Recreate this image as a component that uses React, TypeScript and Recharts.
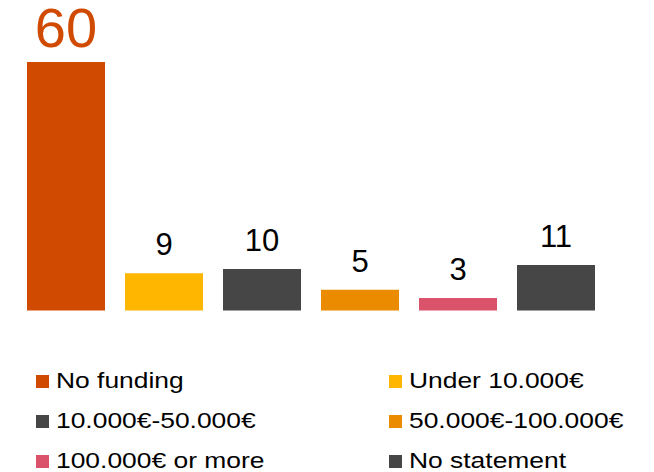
import React from 'react';
import { BarChart, Bar, XAxis, YAxis, Cell, LabelList } from 'recharts';

const categories = [
  'No funding',
  'Under 10.000€',
  '10.000€-50.000€',
  '50.000€-100.000€',
  '100.000€ or more',
  'No statement',
];
const counts = [60, 9, 10, 5, 3, 11];
const colors = ['#D04A02', '#FFB600', '#464646', '#EB8C00', '#DB536A', '#464646'];

const data = categories.map((name, i) => ({ name, value: counts[i] }));

const FONT = '"Liberation Sans", Arial, sans-serif';

function ValueLabel(props: any) {
  const { x, y, width, value, index } = props;
  const big = index === 0;
  return (
    <text
      x={x + width / 2}
      y={y - (big ? 15 : 18)}
      textAnchor="middle"
      fontFamily={FONT}
      fontSize={big ? 56 : 31}
      fill={big ? colors[0] : '#000'}
    >
      {value}
    </text>
  );
}

function LegendGrid() {
  return (
    <div
      style={{
        position: 'absolute',
        left: 36,
        top: 361,
        width: 610,
        display: 'grid',
        gridTemplateColumns: '353px 250px',
        fontFamily: FONT,
        fontSize: 22,
        color: '#000',
      }}
    >
      {categories.map((c, i) => (
        <div key={c} style={{ display: 'flex', alignItems: 'center', height: 40, whiteSpace: 'nowrap' }}>
          <span style={{ width: 13, height: 13, background: colors[i], marginRight: 7, flex: 'none' }} />
          <span style={{ display: 'inline-block', transform: 'scaleX(1.2)', transformOrigin: 'left center' }}>{c}</span>
        </div>
      ))}
    </div>
  );
}

export default function App() {
  return (
    <div style={{ position: 'absolute', left: 0, top: 0, width: 654, height: 472, background: '#fff', overflow: 'hidden' }}>
      <BarChart
        width={654}
        height={311}
        data={data}
        margin={{ top: 62, right: 49, bottom: 0.5, left: 17 }}
        barCategoryGap={10}
      >
        <XAxis dataKey="name" hide />
        <YAxis hide domain={[0, 60]} />
        <Bar dataKey="value" isAnimationActive={false}>
          {data.map((d, i) => (
            <Cell key={d.name} fill={colors[i]} />
          ))}
          <LabelList dataKey="value" content={<ValueLabel />} />
        </Bar>
      </BarChart>
      <LegendGrid />
    </div>
  );
}
